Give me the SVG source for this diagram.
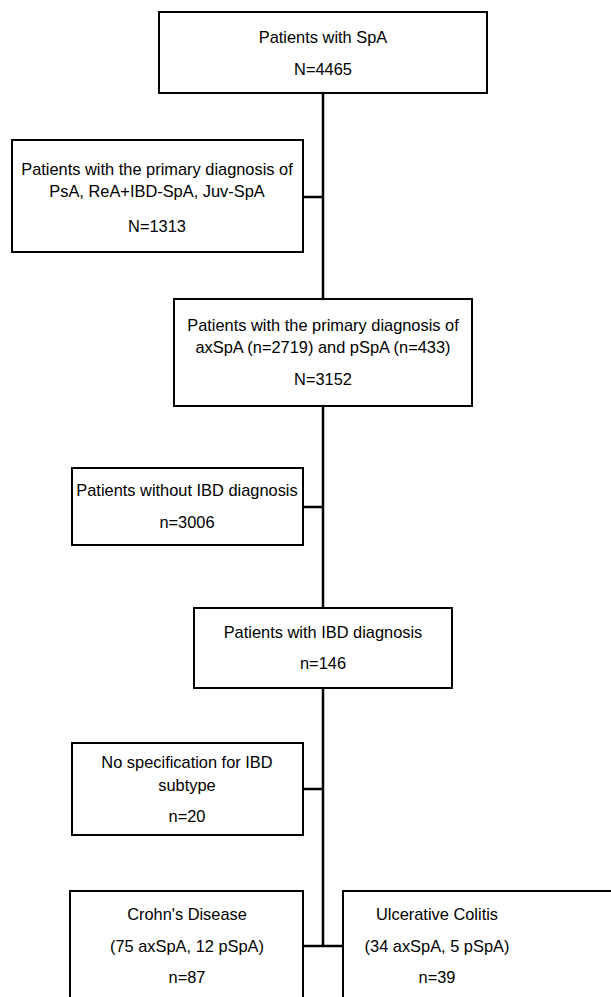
<svg xmlns="http://www.w3.org/2000/svg" width="611" height="997" viewBox="0 0 611 997">
<style>
.box{fill:#fff;stroke:#000;stroke-width:2}
.c{stroke:#000;stroke-width:2.5;fill:none}
text{font-family:"Liberation Sans",Arial,sans-serif;font-size:16.4px;fill:#000;text-anchor:middle}
</style>
<rect width="611" height="997" fill="#fff"/>
<g id="connectors">
<line class="c" x1="323" y1="93" x2="323" y2="299"/>
<line class="c" x1="303" y1="197" x2="323" y2="197"/>
<line class="c" x1="323" y1="406" x2="323" y2="608"/>
<line class="c" x1="303" y1="507" x2="323" y2="507"/>
<line class="c" x1="323" y1="688" x2="323" y2="946"/>
<line class="c" x1="303" y1="789" x2="323" y2="789"/>
<line class="c" x1="303" y1="946" x2="343" y2="946"/>
</g>
<g id="n1"><rect class="box" x="159" y="12" width="328" height="81"/>
<text x="323" y="43">Patients with SpA</text><text x="323" y="75">N=4465</text></g>
<g id="n2"><rect class="box" x="12" y="140" width="291" height="112"/>
<text x="157" y="175">Patients with the primary diagnosis of</text><text x="157" y="197">PsA, ReA+IBD-SpA, Juv-SpA</text><text x="157" y="232">N=1313</text></g>
<g id="n3"><rect class="box" x="174" y="299" width="298" height="107"/>
<text x="323" y="331">Patients with the primary diagnosis of</text><text x="323" y="353">axSpA (n=2719) and pSpA (n=433)</text><text x="323" y="385">N=3152</text></g>
<g id="n4"><rect class="box" x="72" y="468" width="231" height="77"/>
<text x="187" y="496">Patients without IBD diagnosis</text><text x="187" y="528">n=3006</text></g>
<g id="n5"><rect class="box" x="194" y="608" width="258" height="80"/>
<text x="323" y="638">Patients with IBD diagnosis</text><text x="323" y="669">n=146</text></g>
<g id="n6"><rect class="box" x="72" y="743" width="231" height="92"/>
<text x="187" y="768">No specification for IBD</text><text x="187" y="791">subtype</text><text x="187" y="822">n=20</text></g>
<g id="n7"><rect class="box" x="70" y="891" width="233" height="120"/>
<text x="187" y="920">Crohn's Disease</text><text x="187" y="952">(75 axSpA, 12 pSpA)</text><text x="187" y="983">n=87</text></g>
<g id="n8"><rect class="box" x="343" y="891" width="280" height="120"/>
<text x="437" y="920">Ulcerative Colitis</text><text x="437" y="952">(34 axSpA, 5 pSpA)</text><text x="437" y="983">n=39</text></g>
</svg>
